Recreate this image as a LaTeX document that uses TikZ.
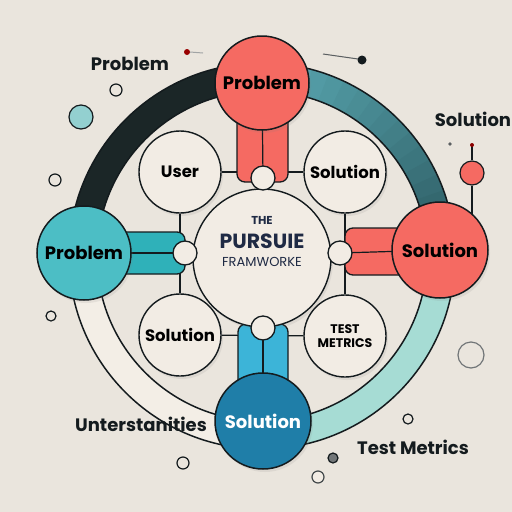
\documentclass[tikz,border=0pt]{standalone}
\usepackage{fontspec}
\setmainfont{Poppins}
\usepackage{tikz}
\usetikzlibrary{positioning,shadows}

\definecolor{bgcol}{HTML}{EAE5DD}
\definecolor{inkcol}{HTML}{141B1E}
\definecolor{coral}{HTML}{F56A62}
\definecolor{teal}{HTML}{4CBEC5}
\definecolor{tealbar}{HTML}{2FB1B9}
\definecolor{ocean}{HTML}{1F7EA8}
\definecolor{oceanbar}{HTML}{3CB4D8}
\definecolor{cream}{HTML}{F2ECE4}
\definecolor{ringdark}{HTML}{1B2627}
\definecolor{ringtealA}{HTML}{5AA8B2}
\definecolor{ringtealB}{HTML}{2C5A61}
\definecolor{ringmint}{HTML}{A6DCD4}
\definecolor{ringcream}{HTML}{F3EEE6}
\definecolor{navy}{HTML}{1F2A44}

\tikzset{
  mainnode/.style={circle, draw=inkcol, line width=1.5pt, minimum size=94pt, inner sep=0pt,
    font=\fontsize{18}{19}\selectfont\bfseries,
    drop shadow={opacity=0.13, shadow xshift=2pt, shadow yshift=-3pt}},
  innernode/.style={circle, draw=inkcol, line width=1.4pt, fill=cream, minimum size=82pt, inner sep=0pt,
    font=\fontsize{16.5}{18}\selectfont\bfseries,
    drop shadow={opacity=0.13, shadow xshift=2pt, shadow yshift=-3pt}},
  joint/.style={circle, draw=inkcol, line width=1.3pt, fill=cream, minimum size=24pt, inner sep=0pt},
  bar/.style={draw=inkcol, line width=1.3pt, rounded corners=8pt},
  wire/.style={draw=inkcol, line width=1.2pt},
  deco/.style={draw=inkcol, line width=1.2pt},
  outtext/.style={font=\fontsize{18}{19}\selectfont\bfseries, text=inkcol},
  ringband/.style={line width=28pt}
}

\begin{document}
\begin{tikzpicture}[x=1pt,y=-1pt]
  \fill[bgcol] (0,0) rectangle (512,512);
  \useasboundingbox (0,0) rectangle (512,512);

  \coordinate (hub) at (262,256);
  \coordinate (pTop) at (262,83);
  \coordinate (pLeft) at (84,253);
  \coordinate (pRight) at (440,250);
  \coordinate (pBot) at (263,421);
  \coordinate (jTop) at (263,178);
  \coordinate (jLeft) at (185,253);
  \coordinate (jRight) at (340,253);
  \coordinate (jBot) at (263,328);

  \draw[ringband, ringdark] (hub) ++(180:179) arc[start angle=180, end angle=270, radius=179];
  \foreach \a in {0,...,17}{
    \pgfmathsetmacro\mix{100-\a*100/17}
    \draw[ringband, ringtealA!\mix!ringtealB] (hub) ++(270+\a*5:179) arc[start angle=270+\a*5, end angle=276+\a*5, radius=179];
  }
  \draw[ringband, ringmint] (hub) ++(0:179) arc[start angle=0, end angle=90, radius=179];
  \draw[ringband, ringcream] (hub) ++(90:179) arc[start angle=90, end angle=180, radius=179];
  \draw[inkcol, line width=1.5pt] (hub) circle[radius=193];
  \draw[inkcol, line width=1.5pt] (hub) circle[radius=165];

  \node[deco, circle, fill=coral, minimum size=24pt, inner sep=0pt] (tick) at (472,173) {};
  \draw[deco] (472,146) -- (tick.north);
  \draw[deco] (tick.south) -- (472,230);
  \fill[red!55!black] (472,145) circle[radius=2];
  \fill[inkcol!70] (450,144) circle[radius=1.8];

  \node[innernode] (user) at (180,172) {User};
  \node[innernode] (solTR) at (345,172) {Solution};
  \node[innernode] (solBL) at (180,335) {Solution};
  \node[innernode, align=center, font=\fontsize{12.5}{14}\selectfont\bfseries] (test) at (345,336) {TEST\\METRICS};

  \draw[wire] (user) -- (solTR);
  \draw[wire] (user) -- (solBL);
  \draw[wire] (solTR) -- (test);
  \draw[wire] (solBL) -- (test);

  \draw[bar, fill=coral] ([xshift=-25pt]pTop) rectangle ([xshift=25pt,yshift=-4pt]jTop);
  \draw[wire] (pTop) -- (jTop);
  \draw[bar, fill=tealbar] ([yshift=21pt]pLeft) rectangle ([yshift=-21pt]jLeft);
  \draw[wire] (pLeft) -- (jLeft);
  \draw[bar, fill=coral] ([yshift=22pt]pRight) rectangle ([xshift=5pt,yshift=-22pt]jRight);
  \draw[wire] (pRight) -- (jRight);
  \draw[bar, fill=oceanbar] ([xshift=-25pt]pBot) rectangle ([xshift=25pt,yshift=4pt]jBot);
  \draw[wire] (pBot) -- (jBot);

  \node[circle, draw=inkcol, line width=1.4pt, fill=cream, minimum size=138pt,
    drop shadow={opacity=0.13, shadow xshift=2pt, shadow yshift=-3pt}] (core) at (262,258) {};
  \node[font=\fontsize{11.5}{12}\selectfont\bfseries, text=navy] (coreThe) at (262,220) {THE};
  \node[font=\fontsize{20.5}{21}\selectfont\bfseries, text=navy] (corePur) at (262,241) {PURSUIE};
  \node[font=\fontsize{13}{14}\selectfont, text=navy] (coreFram) at (262,262) {FRAMWORKE};

  \node[joint] (jointTop) at (jTop) {};
  \node[joint] (jointLeft) at (jLeft) {};
  \node[joint] (jointRight) at (jRight) {};
  \node[joint] (jointBot) at (jBot) {};

  \node[mainnode, fill=coral] (probTop) at (pTop) {Problem};
  \node[mainnode, fill=teal] (probLeft) at (pLeft) {Problem};
  \node[mainnode, fill=coral, minimum size=96pt] (solRight) at (pRight) {Solution};
  \node[mainnode, fill=ocean, text=white, minimum size=96pt] (solBot) at (pBot) {Solution};

  \node[outtext] (tagProb) at (130,64) {Problem};
  \node[outtext] (tagSol) at (473,119) {Solution};
  \node[outtext] (tagUnt) at (141,424) {Unterstanities};
  \node[outtext] (tagTest) at (413,447) {Test Metrics};

  \draw[deco, fill=bgcol] (116,90) circle[radius=6];
  \draw[deco, fill=teal!55!bgcol] (81,117) circle[radius=12];
  \draw[deco, fill=bgcol] (55,180) circle[radius=6];
  \draw[deco, fill=bgcol] (51,316) circle[radius=5];
  \draw[deco, fill=bgcol] (183,463) circle[radius=6];
  \draw[deco, draw=inkcol!60, fill=bgcol] (471,355) circle[radius=13];
  \draw[deco, fill=bgcol] (408,419) circle[radius=5];
  \draw[deco, fill=inkcol!60] (333,458) circle[radius=5];
  \draw[deco, draw=inkcol!80, fill=cream] (318,477) circle[radius=6];
  \draw[inkcol!70, line width=1pt] (323,54) .. controls (340,56) .. (358,59);
  \fill[inkcol] (362,60) circle[radius=4.5];
  \draw[inkcol!40, line width=1pt] (190,52) -- (203,53);
  \fill[red!60!black] (187,52) circle[radius=3];
\end{tikzpicture}
\end{document}
